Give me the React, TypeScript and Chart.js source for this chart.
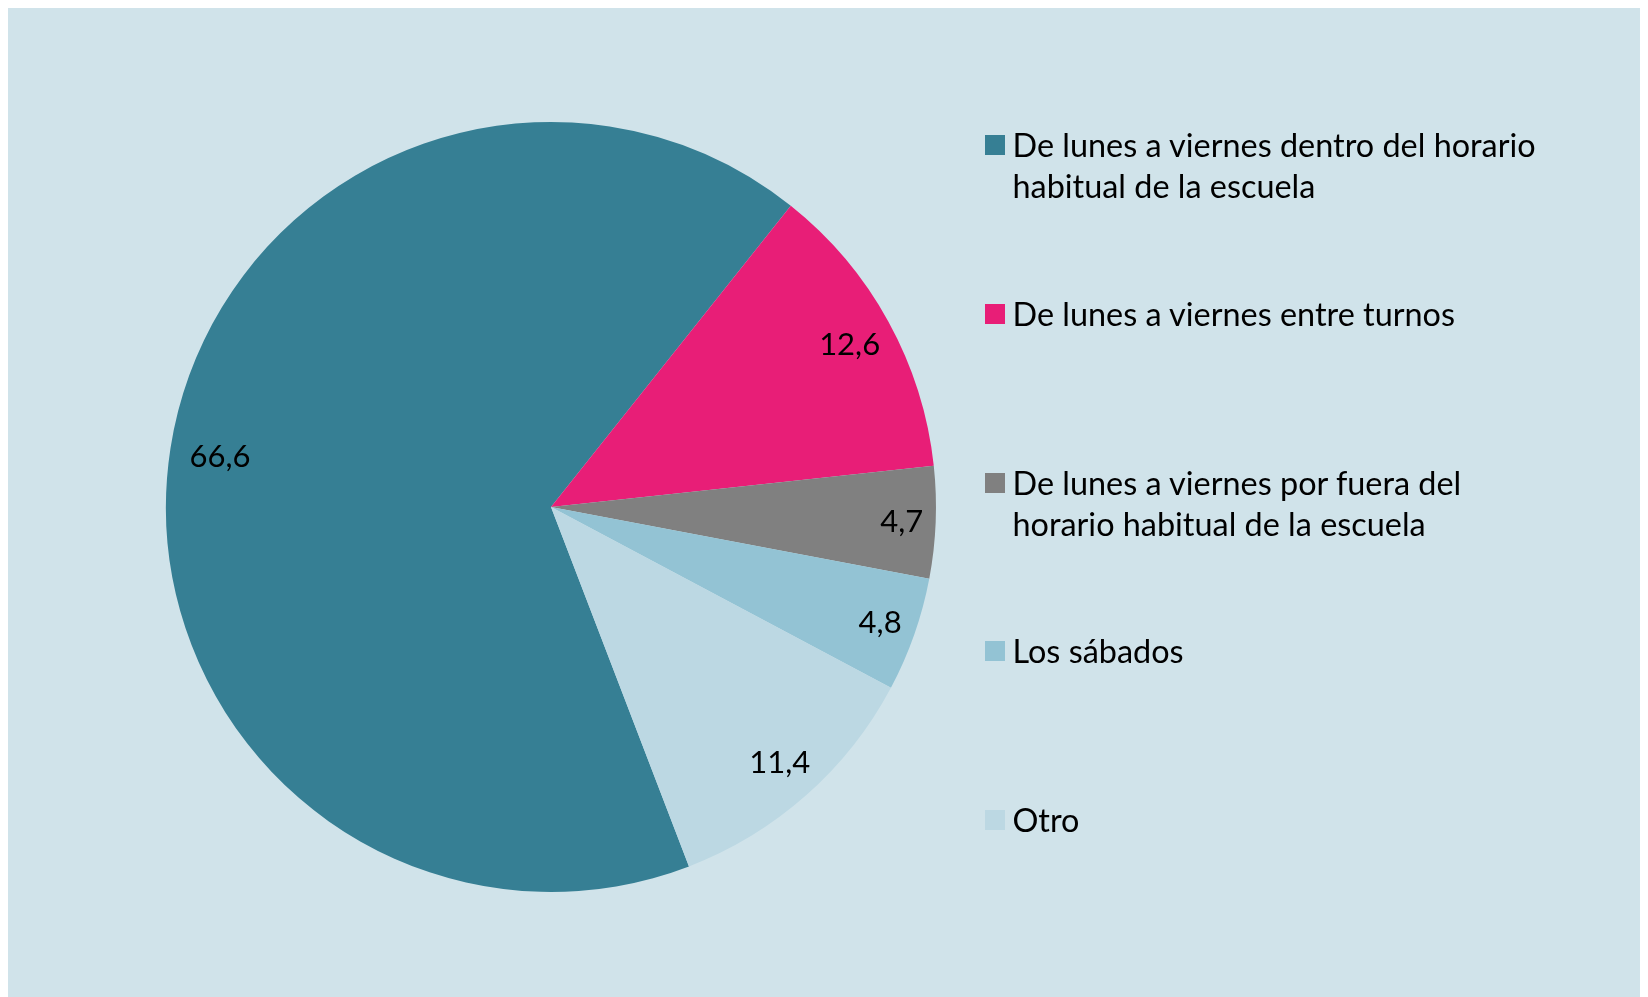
import React, { useEffect, useRef } from "react";
import { Chart, registerables } from "chart.js";

Chart.register(...registerables);

const categories: string[][] = [
  ["De lunes a viernes dentro del horario", "habitual de la escuela"],
  ["De lunes a viernes entre turnos"],
  ["De lunes a viernes por fuera del", "horario habitual de la escuela"],
  ["Los sábados"],
  ["Otro"],
];
const values: number[] = [66.6, 12.6, 4.7, 4.8, 11.4];
const colors: string[] = ["#367F94", "#E81E77", "#808080", "#93C3D4", "#BCD8E3"];

const BG = "#D0E3EA";
const FONT = "Lato, 'Noto Sans', sans-serif";
const LABEL_SIZE = 31;

const labelPlugin = {
  id: "insideEndLabels",
  afterDatasetsDraw(chart: any) {
    const ctx = chart.ctx as CanvasRenderingContext2D;
    const meta = chart.getDatasetMeta(0);
    ctx.save();
    ctx.font = `${LABEL_SIZE}px ${FONT}`;
    ctx.fillStyle = "#000";
    ctx.textAlign = "center";
    ctx.textBaseline = "alphabetic";
    const capH = LABEL_SIZE * 0.72;
    meta.data.forEach((arc: any, i: number) => {
      const p = arc.getProps(["x", "y", "startAngle", "endAngle", "outerRadius"], true);
      const mid = (p.startAngle + p.endAngle) / 2;
      const ux = Math.cos(mid);
      const uy = Math.sin(mid);
      const text = values[i].toFixed(1).replace(".", ",");
      const w = ctx.measureText(text).width;
      const extent = (w / 2) * Math.abs(ux) + (capH / 2 + 1) * Math.abs(uy);
      const d = p.outerRadius - 15 - extent;
      const cx = p.x + ux * d + 3;
      const cy = p.y + uy * d;
      ctx.fillText(text, cx, cy + capH / 2);
    });
    ctx.restore();
  },
};

export default function App() {
  const canvasRef = useRef<HTMLCanvasElement | null>(null);

  useEffect(() => {
    document.documentElement.style.overflow = "hidden";
    const canvas = canvasRef.current;
    if (!canvas) return;
    const chart = new Chart(canvas, {
      type: "pie",
      data: {
        labels: categories.map((c) => c.join(" ")),
        datasets: [
          {
            data: values,
            backgroundColor: colors,
            borderWidth: 0,
          },
        ],
      },
      options: {
        animation: false,
        responsive: false,
        rotation: 159,
        layout: { padding: { left: 158, right: 712, top: 114, bottom: 106 } },
        plugins: {
          legend: { display: false },
          tooltip: { enabled: false },
        },
      },
      plugins: [labelPlugin],
    });
    return () => chart.destroy();
  }, []);

  const legendTop0 = 127;
  const legendStep = 168.75;

  return (
    <div style={{ position: "relative", width: 1640, height: 990, background: BG }}>
      <canvas ref={canvasRef} width={1640} height={990} style={{ display: "block" }} />
      {categories.map((lines, i) => (
        <div
          key={i}
          style={{
            position: "absolute",
            left: 977,
            top: legendTop0 + i * legendStep,
            display: "flex",
            alignItems: "flex-start",
            fontFamily: FONT,
            fontSize: 32.4,
            color: "#000",
          }}
        >
          <div style={{ width: 20, height: 20, background: colors[i], marginRight: 7.5, flex: "none" }} />
          <div style={{ lineHeight: "41px", marginTop: -11 }}>
            {lines.map((l, j) => (
              <div key={j} style={{ whiteSpace: "nowrap" }}>{l}</div>
            ))}
          </div>
        </div>
      ))}
    </div>
  );
}
